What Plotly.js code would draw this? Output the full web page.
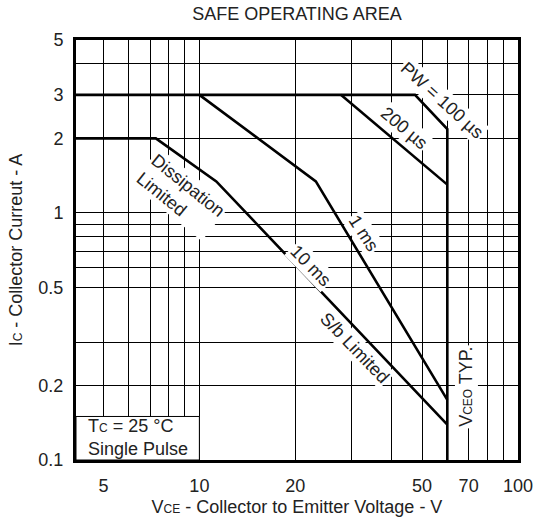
<!DOCTYPE html>
<html>
<head>
<meta charset="utf-8">
<script src="https://cdn.plot.ly/plotly-3.0.1.min.js"></script>
<style>html,body{margin:0;padding:0;background:#fff;}</style>
</head>
<body>
<div id="chart" style="width:546px;height:517px;"></div>
<script>
// ---- data (V = collector-emitter voltage, I = collector current) ----
const vMin = 4.1, vMax = 100;
const iMin = 0.1, iMax = 5;

const pw100V = [4.1, 47.5, 60, 60];
const pw100I = [3, 3, 2.18, 0.1];

const pw200V = [27.8, 60];
const pw200I = [3, 1.3];

const ms1V = [10, 23.2, 60];
const ms1I = [3, 1.34, 0.175];

const ms10V = [4.1, 7.3, 11.3, 60];
const ms10I = [2, 2, 1.34, 0.139];

const xTickVals = [5, 6, 7, 8, 9, 10, 20, 30, 40, 50, 60, 70, 80, 90, 100];
const xTickText = ['5', '', '', '', '', '10', '20', '', '', '50', '', '70', '', '', '100'];
const yTickVals = [0.1, 0.2, 0.3, 0.5, 0.6, 0.7, 0.8, 0.9, 1, 2, 3, 4, 5];
const yTickText = ['0.1', '0.2', '', '0.5', '', '', '', '', '1', '2', '3', '', '5'];

const sm = s => '<span style="font-size:12px">' + s + '</span>';
const labelText = ['PW = 100 µs', '200 µs', '1 ms', '10 ms', 'S/b Limited', 'Dissipation<br>Limited', 'V' + sm('CEO') + ' TYP.'];
const labelV = [57.6, 43.9, 32.7, 22.4, 30.8, 8.75, 69];
const labelI = [2.85, 2.2, 0.826, 0.609, 0.285, 1.19, 0.197];
const labelAngle = [42, 40, 57, 46, 46, 39, -90];
const labelAlign = ['center', 'center', 'center', 'center', 'center', 'left', 'center'];

const boxV = 10, boxI = 0.15;
const boxText = 'T' + sm('C') + ' = 25 °C<br>Single Pulse';
const boxTextI = 0.1233;
const boxTextV = 4.4;

// ---- chart ----
const FONT = 'Liberation Sans, Arial, sans-serif';
const TXT = '#222';
const line = {color: '#000', width: 2.6};
const traces = [
  {x: pw100V, y: pw100I, mode: 'lines', line: line, hoverinfo: 'skip'},
  {x: pw200V, y: pw200I, mode: 'lines', line: line, hoverinfo: 'skip'},
  {x: ms1V, y: ms1I, mode: 'lines', line: line, hoverinfo: 'skip'},
  {x: ms10V, y: ms10I, mode: 'lines', line: line, hoverinfo: 'skip'}
];

const annotations = labelText.map((t, k) => ({
  x: Math.log10(labelV[k]), y: Math.log10(labelI[k]), xref: 'x', yref: 'y',
  text: t, showarrow: false, textangle: labelAngle[k], align: labelAlign[k],
  bgcolor: '#fff', borderpad: 1,
  font: {family: FONT, size: 18, color: TXT}
}));
annotations.push({
  x: Math.log10(boxTextV), y: Math.log10(boxTextI), xref: 'x', yref: 'y',
  xanchor: 'left', yanchor: 'middle', align: 'left', text: boxText, showarrow: false,
  font: {family: FONT, size: 18, color: TXT}
});

const layout = {
  width: 546, height: 517,
  margin: {l: 76, r: 28, t: 40, b: 57},
  paper_bgcolor: '#fff', plot_bgcolor: '#fff',
  showlegend: false,
  font: {family: FONT, size: 18, color: TXT},
  title: {text: 'SAFE OPERATING AREA', x: 0.5, xref: 'paper', y: 0.973, yref: 'container', yanchor: 'middle',
          font: {family: FONT, size: 18, color: TXT}},
  xaxis: {
    type: 'log', range: [Math.log10(vMin), Math.log10(vMax)],
    tickmode: 'array', tickvals: xTickVals, ticktext: xTickText,
    showgrid: true, gridcolor: '#000', gridwidth: 1,
    ticks: 'outside', ticklen: 7, tickcolor: 'rgba(0,0,0,0)',
    showline: true, mirror: true, linecolor: '#000', linewidth: 3,
    zeroline: false, tickfont: {size: 18, color: TXT},
    title: {text: 'V' + sm('CE') + ' - Collector to Emitter Voltage - V', standoff: 10,
            font: {size: 18, color: TXT}}
  },
  yaxis: {
    type: 'log', range: [Math.log10(iMin), Math.log10(iMax)],
    tickmode: 'array', tickvals: yTickVals, ticktext: yTickText,
    showgrid: true, gridcolor: '#000', gridwidth: 1,
    ticks: 'outside', ticklen: 6, tickcolor: 'rgba(0,0,0,0)',
    showline: true, mirror: true, linecolor: '#000', linewidth: 3,
    zeroline: false, tickfont: {size: 18, color: TXT},
    title: {text: 'I' + sm('C') + ' - Collector Curreut - A', standoff: 12,
            font: {size: 18, color: TXT}}
  },
  shapes: [{
    type: 'rect', xref: 'x', yref: 'y', layer: 'between',
    x0: vMin, x1: boxV, y0: iMin, y1: boxI,
    fillcolor: '#fff', line: {color: '#000', width: 1}
  }],
  annotations: annotations
};

Plotly.newPlot('chart', traces, layout, {staticPlot: true, displayModeBar: false});
</script>
</body>
</html>
